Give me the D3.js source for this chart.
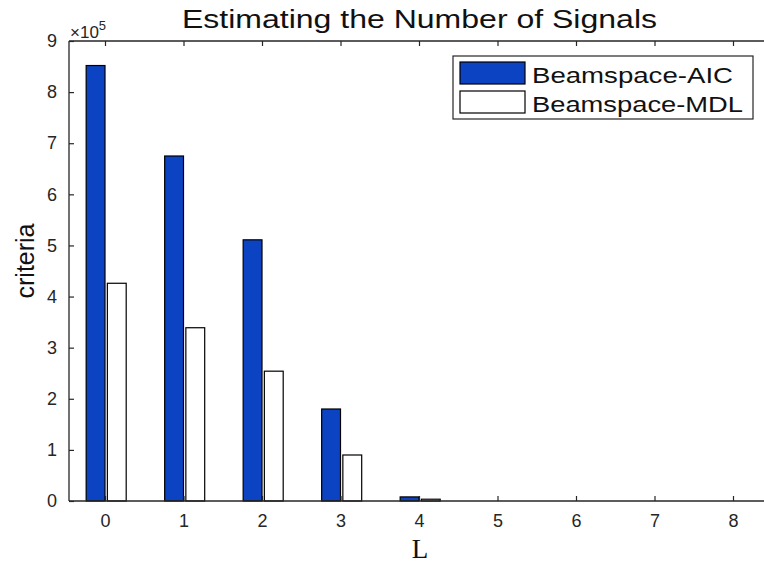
<!DOCTYPE html>
<html>
<head>
<meta charset="utf-8">
<script src="https://cdn.jsdelivr.net/npm/d3@7"></script>
<style>
  body { margin: 0; background: #fff; }
  svg { display: block; font-family: "Liberation Sans", Arial, sans-serif; }
</style>
</head>
<body>
<script>
const width = 764;
const height = 564;

// chart values (criteria in units of 1e5)
const Ls = [0, 1, 2, 3, 4, 5, 6, 7, 8];
const aic = [8.52, 6.75, 5.11, 1.80, 0.08, 0, 0, 0, 0];
const mdl = [4.26, 3.39, 2.54, 0.90, 0.035, 0, 0, 0, 0];
const yTicks = [0, 1, 2, 3, 4, 5, 6, 7, 8, 9];
const seriesNames = ["Beamspace-AIC", "Beamspace-MDL"];
const seriesColors = ["#0b43c2", "#ffffff"];

const axLeft = 69, axRight = 766, axTop = 41, axBottom = 501;
const axisColor = "#262626";

const x = d3.scaleLinear().domain([0, 8]).range([105, 733]);
const y = d3.scaleLinear().domain([0, 9]).range([axBottom, axTop]);

const svg = d3.select(document.body).append("svg")
    .attr("width", width)
    .attr("height", height);

// bars
const bars = svg.append("g").attr("stroke", "#000").attr("stroke-width", 1.2);
bars.selectAll("rect.aic")
    .data(Ls)
    .join("rect")
    .attr("class", "aic")
    .attr("x", d => x(d - 0.24))
    .attr("width", d => x(d) - x(d - 0.24))
    .attr("y", (d, i) => y(aic[i]))
    .attr("height", (d, i) => y(0) - y(aic[i]))
    .attr("fill", seriesColors[0])
    .attr("display", (d, i) => aic[i] > 0 ? null : "none");

bars.selectAll("rect.mdl")
    .data(Ls)
    .join("rect")
    .attr("class", "mdl")
    .attr("x", d => x(d + 0.03))
    .attr("width", d => x(d + 0.27) - x(d + 0.03))
    .attr("y", (d, i) => y(mdl[i]))
    .attr("height", (d, i) => y(0) - y(mdl[i]))
    .attr("fill", seriesColors[1])
    .attr("display", (d, i) => mdl[i] > 0 ? null : "none");

// axes box
const axes = svg.append("g").attr("stroke", axisColor).attr("stroke-width", 1.3).attr("fill", "none");
axes.append("line").attr("x1", axLeft).attr("x2", axLeft).attr("y1", axTop).attr("y2", axBottom);
axes.append("line").attr("x1", axLeft).attr("x2", axRight).attr("y1", axTop).attr("y2", axTop);
axes.append("line").attr("x1", axLeft).attr("x2", axRight).attr("y1", axBottom).attr("y2", axBottom);

// ticks on bottom, top and left, all pointing inward
const xAxis = svg.append("g").attr("transform", `translate(0,${axBottom})`)
    .call(d3.axisBottom(x).tickValues(Ls).tickSize(-5).tickPadding(13));
const xTop = svg.append("g").attr("transform", `translate(0,${axTop})`)
    .call(d3.axisTop(x).tickValues(Ls).tickSize(-5).tickFormat(""));
const yAxis = svg.append("g").attr("transform", `translate(${axLeft},0)`)
    .call(d3.axisLeft(y).tickValues(yTicks).tickSize(-5).tickPadding(12));

[xAxis, xTop, yAxis].forEach(g => {
    g.attr("font-size", 18).attr("font-family", "Liberation Sans, Arial, sans-serif");
    g.select(".domain").remove();
    g.selectAll(".tick line").attr("stroke", axisColor).attr("stroke-width", 1.2);
    g.selectAll(".tick text").attr("fill", "#262626");
});

// exponent label
const expo = svg.append("text")
    .attr("x", 70).attr("y", 38)
    .attr("fill", "#262626")
    .attr("font-size", 17);
expo.append("tspan").text("\u00d710");
expo.append("tspan").attr("dy", -8).attr("font-size", 13).text("5");

// title
svg.append("text")
    .attr("x", 182).attr("y", 28)
    .attr("font-size", 25)
    .attr("fill", "#111")
    .attr("textLength", 475)
    .attr("lengthAdjust", "spacingAndGlyphs")
    .text("Estimating the Number of Signals");

// y label
svg.append("text")
    .attr("transform", "translate(34,261) rotate(-90)")
    .attr("text-anchor", "middle")
    .attr("font-size", 25)
    .attr("fill", "#111")
    .text("criteria");

// x label
svg.append("text")
    .attr("x", 420).attr("y", 558)
    .attr("text-anchor", "middle")
    .attr("font-family", "Liberation Serif, Times New Roman, serif")
    .attr("font-size", 27)
    .attr("fill", "#111")
    .text("L");

// legend
const legend = svg.append("g");
legend.append("rect")
    .attr("x", 453).attr("y", 56).attr("width", 300).attr("height", 63)
    .attr("fill", "#fff").attr("stroke", axisColor).attr("stroke-width", 1.2);
const legendTextLen = [201, 211];
seriesNames.forEach((name, i) => {
    legend.append("rect")
        .attr("x", 460).attr("y", 62 + i * 29)
        .attr("width", 65).attr("height", 22)
        .attr("fill", seriesColors[i])
        .attr("stroke", "#000").attr("stroke-width", 1.2);
    legend.append("text")
        .attr("x", 532).attr("y", 83 + i * 29)
        .attr("font-size", 22)
        .attr("fill", "#111")
        .attr("textLength", legendTextLen[i])
        .attr("lengthAdjust", "spacingAndGlyphs")
        .text(name);
});
</script>
</body>
</html>
